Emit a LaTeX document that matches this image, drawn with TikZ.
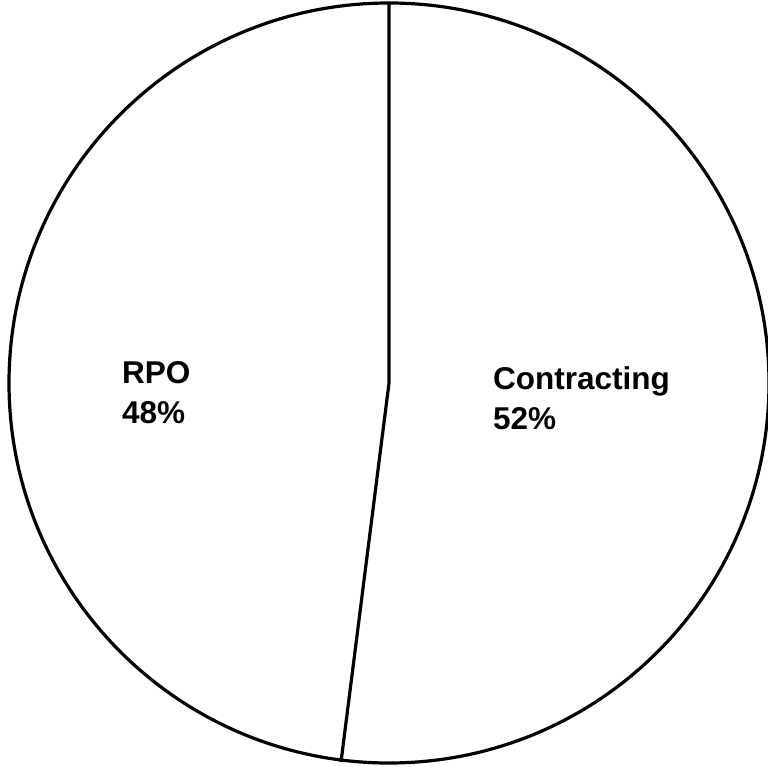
\documentclass[tikz,border=0pt]{standalone}
\usepackage{fontspec}
\setmainfont{Liberation Sans}
\begin{document}
\begin{tikzpicture}[x=1pt,y=-1pt,
  slice/.style={draw=black,line width=3.2pt,line join=miter},
  lbl/.style={anchor=base west,inner sep=0pt,font=\fontsize{31.5}{38}\selectfont\bfseries}]
\useasboundingbox (0,0) rectangle (767,767);
\coordinate (c) at (389,383);
\draw[slice] (c) circle[radius=380];
\coordinate (top) at (389,3);
\coordinate (bot) at (341,762);
\draw[slice] (top) -- (c) -- (bot);
\node[lbl] (rpo) at (122,383) {RPO};
\node[lbl] (rpov) at (122,423) {48\%};
\node[lbl] (con) at (493,389) {Contracting};
\node[lbl] (conv) at (493,429) {52\%};
\end{tikzpicture}
\end{document}
